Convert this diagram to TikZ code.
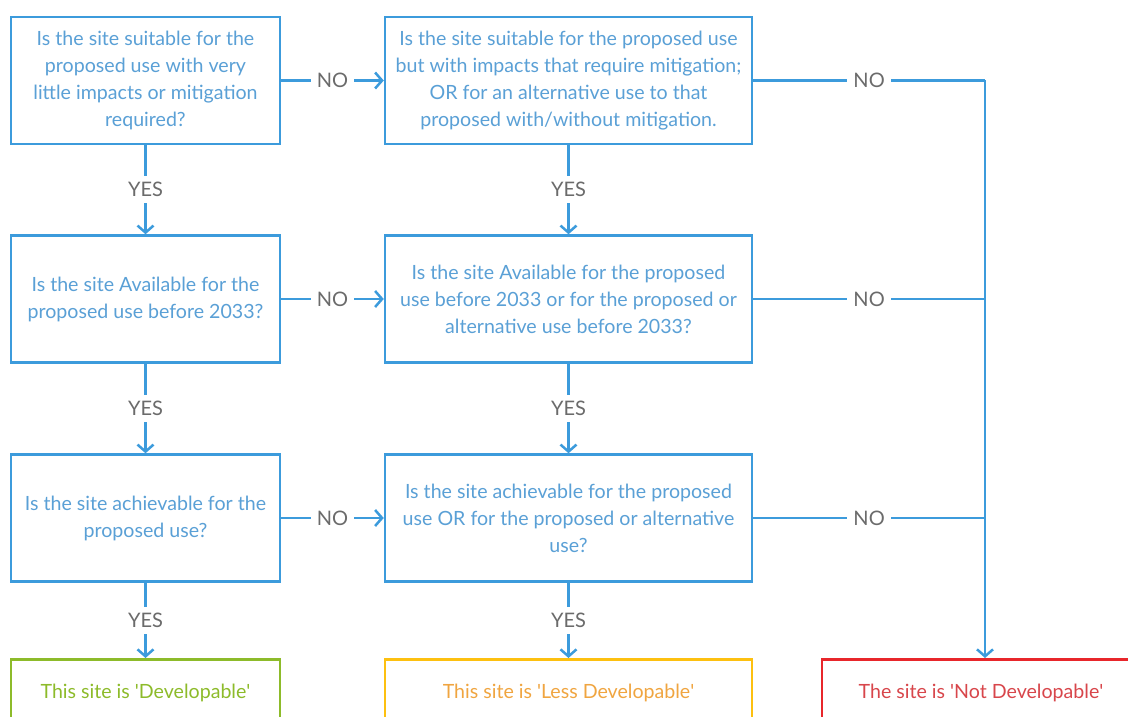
\documentclass[tikz,border=0pt]{standalone}
\usepackage{fontspec}
\setmainfont{Lato}
\usetikzlibrary{arrows.meta,positioning}
\definecolor{LineBlue}  {HTML}{3C9BDC}
\definecolor{TextBlue}  {HTML}{5AA0D6}
\definecolor{LabelGray} {HTML}{6B6B6B}
\definecolor{DevGreen}  {HTML}{8DBB2A}
\definecolor{LessOrange}{HTML}{FDC010}
\definecolor{LessText}  {HTML}{F0A540}
\definecolor{NotRed}    {HTML}{E8262B}
\definecolor{NotText}   {HTML}{D8464B}
\tikzset{
  qbox/.style={rectangle,draw=LineBlue,line width=2.5pt,fill=white,
               font=\fontsize{19.6}{27}\selectfont\color{TextBlue},
               minimum width=#1,minimum height=127pt,align=center},
  rbox/.style={rectangle,draw=#1,line width=2.5pt,fill=white,
               minimum height=68pt,anchor=north,
               font=\fontsize{19.6}{27}\selectfont},
  lbl/.style={fill=white,font=\fontsize{20}{22}\selectfont,text=LabelGray,
              inner sep=6pt},
  conn/.style={line width=2.5pt,color=LineBlue},
  arr/.style={conn,-{Straight Barb[length=7pt,width=16pt,line width=2.5pt]}},
}
\newcommand{\sq}{\textquotesingle}
\begin{document}
\begin{tikzpicture}[x=1pt,y=-1pt]
  \useasboundingbox (0,0) rectangle (1128,717);

  % left column
  \node[qbox=269pt] (suit) at (145.5,80.5)
    {Is the site suitable for the\\proposed use with very\\little impacts or mitigation\\required?};
  \node[qbox=269pt] (avail) at (145.5,299)
    {Is the site Available for the\\proposed use before 2033?};
  \node[qbox=269pt] (achv) at (145.5,518)
    {Is the site achievable for the\\proposed use?};

  % middle column
  \node[qbox=367pt] (suitalt) at (568.5,80.5)
    {Is the site suitable for the proposed use\\but with impacts that require mitigation;\\OR for an alternative use to that\\proposed with/without mitigation.};
  \node[qbox=367pt] (availalt) at (568.5,299)
    {Is the site Available for the proposed\\use before 2033 or for the proposed or\\alternative use before 2033?};
  \node[qbox=367pt] (achvalt) at (568.5,518)
    {Is the site achievable for the proposed\\use OR for the proposed or alternative\\use?};

  % outcomes
  \node[rbox=DevGreen,minimum width=269pt,text=DevGreen] (dev) at (145.5,658)
    {This site is \sq Developable\sq};
  \node[rbox=LessOrange,minimum width=367pt,text=LessText] (less) at (568.5,658)
    {This site is \sq Less Developable\sq};
  \node[rbox=NotRed,minimum width=318pt,text=NotText] (notdev) at (981,658)
    {The site is \sq Not Developable\sq};

  % yes arrows
  \draw[arr] (suit) -- node[lbl]{YES} (avail);
  \draw[arr] (avail) -- node[lbl]{YES} (achv);
  \draw[arr] (achv) -- node[lbl]{YES} (dev);
  \draw[arr] (suitalt) -- node[lbl]{YES} (availalt);
  \draw[arr] (availalt) -- node[lbl]{YES} (achvalt);
  \draw[arr] (achvalt) -- node[lbl]{YES} (less);

  % no arrows
  \draw[arr] (suit) -- node[lbl]{NO} (suitalt);
  \draw[arr] (avail) -- node[lbl]{NO} (availalt);
  \draw[arr] (achv) -- node[lbl]{NO} (achvalt);

  \coordinate (j1) at (985,80.5);
  \coordinate (j2) at (985,299);
  \coordinate (j3) at (985,518);
  \draw[conn] (suitalt) -- node[lbl]{NO} (j1);
  \draw[conn] (availalt) -- node[lbl]{NO} (j2);
  \draw[conn] (achvalt) -- node[lbl]{NO} (j3);
  \draw[arr] (j1) -- (j1 |- notdev.north);
\end{tikzpicture}
\end{document}
